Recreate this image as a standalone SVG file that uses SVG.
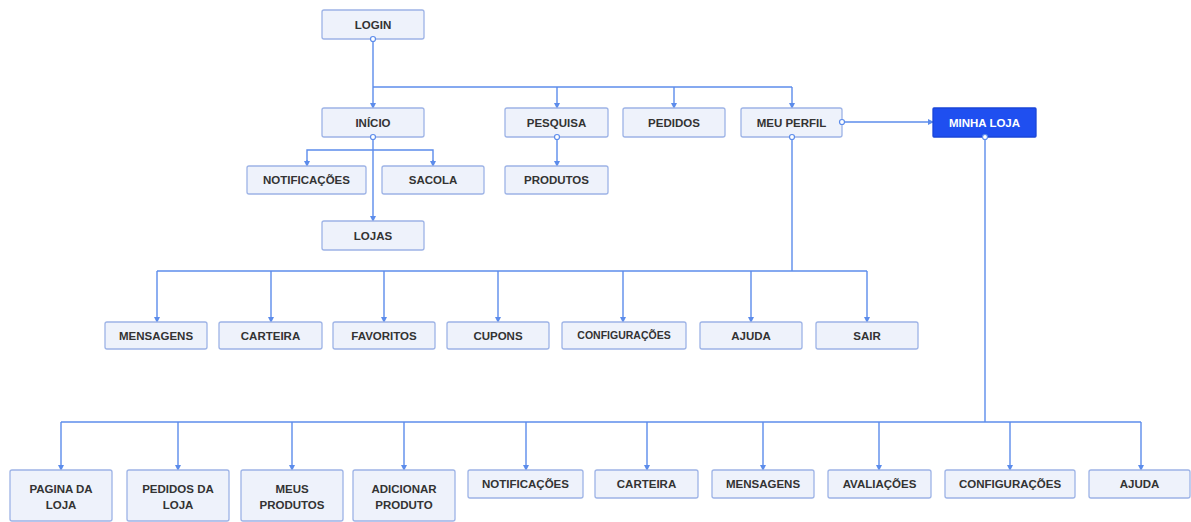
<svg xmlns="http://www.w3.org/2000/svg" width="1191" height="522" viewBox="0 0 1191 522">
  <style>
    .box { fill: #eef2fb; stroke: #9db3e6; stroke-width: 1.3; }
    .box-main { fill: #1f4ff0; stroke: #1a45d8; stroke-width: 1.3; }
    .lbl { font-family: "Liberation Sans", Arial, sans-serif; font-weight: bold; font-size: 11.5px; fill: #333; text-anchor: middle; }
    .lbl-sm { font-size: 10.5px; }
    .lbl-w { fill: #ffffff; }
    .wire { fill: none; stroke: #5c8ceb; stroke-width: 1.4; }
    .dot { fill: #ffffff; stroke: #5c8ceb; stroke-width: 1.2; }
  </style>
  <defs>
    <marker id="arr" viewBox="0 0 6 6" refX="5" refY="3" markerWidth="6" markerHeight="6" orient="auto" markerUnits="userSpaceOnUse">
      <path d="M0,0 L6,3 L0,6 z" fill="#5c8ceb"/>
    </marker>
  </defs>

  <rect width="1191" height="522" fill="#ffffff"/>

  <!-- connectors -->
  <g id="connectors">
    <!-- LOGIN to top menu -->
    <path class="wire" d="M373,39 V108" marker-end="url(#arr)"/>
    <path class="wire" d="M373,87 H792"/>
    <path class="wire" d="M557,87 V108" marker-end="url(#arr)"/>
    <path class="wire" d="M674,87 V108" marker-end="url(#arr)"/>
    <path class="wire" d="M792,87 V108" marker-end="url(#arr)"/>
    <!-- INICIO -->
    <path class="wire" d="M373,137 V221" marker-end="url(#arr)"/>
    <path class="wire" d="M307,166 V150 H433 V166" />
    <path class="wire" d="M307,160 V166" marker-end="url(#arr)"/>
    <path class="wire" d="M433,160 V166" marker-end="url(#arr)"/>
    <!-- PESQUISA -->
    <path class="wire" d="M557,137 V166" marker-end="url(#arr)"/>
    <!-- MEU PERFIL to MINHA LOJA -->
    <path class="wire" d="M842,122 H933" marker-end="url(#arr)"/>
    <!-- MEU PERFIL submenu -->
    <path class="wire" d="M792,137 V271"/>
    <path class="wire" d="M157,271 H867"/>
    <path class="wire" d="M157,271 V322" marker-end="url(#arr)"/>
    <path class="wire" d="M271,271 V322" marker-end="url(#arr)"/>
    <path class="wire" d="M384,271 V322" marker-end="url(#arr)"/>
    <path class="wire" d="M498,271 V322" marker-end="url(#arr)"/>
    <path class="wire" d="M623,271 V322" marker-end="url(#arr)"/>
    <path class="wire" d="M751,271 V322" marker-end="url(#arr)"/>
    <path class="wire" d="M867,271 V322" marker-end="url(#arr)"/>
    <!-- MINHA LOJA submenu -->
    <path class="wire" d="M985,137 V422"/>
    <path class="wire" d="M61,422 H1141"/>
    <path class="wire" d="M61,422 V470" marker-end="url(#arr)"/>
    <path class="wire" d="M178,422 V470" marker-end="url(#arr)"/>
    <path class="wire" d="M292,422 V470" marker-end="url(#arr)"/>
    <path class="wire" d="M404,422 V470" marker-end="url(#arr)"/>
    <path class="wire" d="M526,422 V470" marker-end="url(#arr)"/>
    <path class="wire" d="M647,422 V470" marker-end="url(#arr)"/>
    <path class="wire" d="M763,422 V470" marker-end="url(#arr)"/>
    <path class="wire" d="M879,422 V470" marker-end="url(#arr)"/>
    <path class="wire" d="M1010,422 V470" marker-end="url(#arr)"/>
    <path class="wire" d="M1141,422 V470" marker-end="url(#arr)"/>
  </g>

  <!-- top level -->
  <g id="login"><rect class="box" x="322" y="10" width="102" height="29" rx="2"/><text class="lbl" x="373" y="28.5">LOGIN</text></g>
  <g id="inicio"><rect class="box" x="322" y="108" width="102" height="29" rx="2"/><text class="lbl" x="373" y="126.5">INÍCIO</text></g>
  <g id="pesquisa"><rect class="box" x="505" y="108" width="103" height="29" rx="2"/><text class="lbl" x="556.5" y="126.5">PESQUISA</text></g>
  <g id="pedidos"><rect class="box" x="623" y="108" width="102" height="29" rx="2"/><text class="lbl" x="674" y="126.5">PEDIDOS</text></g>
  <g id="meu-perfil"><rect class="box" x="741" y="108" width="101" height="29" rx="2"/><text class="lbl" x="791.5" y="126.5">MEU PERFIL</text></g>
  <g id="minha-loja"><rect class="box-main" x="933" y="108" width="103" height="29" rx="1"/><text class="lbl lbl-w" x="984.5" y="126.5">MINHA LOJA</text></g>

  <!-- INICIO / PESQUISA children -->
  <g id="notificacoes"><rect class="box" x="247" y="166" width="119" height="28" rx="2"/><text class="lbl" x="306.5" y="184">NOTIFICAÇÕES</text></g>
  <g id="sacola"><rect class="box" x="382" y="166" width="102" height="28" rx="2"/><text class="lbl" x="433" y="184">SACOLA</text></g>
  <g id="lojas"><rect class="box" x="322" y="221" width="102" height="29" rx="2"/><text class="lbl" x="373" y="239.5">LOJAS</text></g>
  <g id="produtos"><rect class="box" x="505" y="166" width="103" height="28" rx="2"/><text class="lbl" x="556.5" y="184">PRODUTOS</text></g>

  <!-- MEU PERFIL children -->
  <g id="perfil-mensagens"><rect class="box" x="105" y="322" width="102" height="27" rx="2"/><text class="lbl" x="156" y="339.5">MENSAGENS</text></g>
  <g id="perfil-carteira"><rect class="box" x="219" y="322" width="103" height="27" rx="2"/><text class="lbl" x="270.5" y="339.5">CARTEIRA</text></g>
  <g id="perfil-favoritos"><rect class="box" x="333" y="322" width="102" height="27" rx="2"/><text class="lbl" x="384" y="339.5">FAVORITOS</text></g>
  <g id="perfil-cupons"><rect class="box" x="447" y="322" width="102" height="27" rx="2"/><text class="lbl" x="498" y="339.5">CUPONS</text></g>
  <g id="perfil-configuracoes"><rect class="box" x="562" y="322" width="124" height="27" rx="2"/><text class="lbl lbl-sm" x="624" y="339">CONFIGURAÇÕES</text></g>
  <g id="perfil-ajuda"><rect class="box" x="700" y="322" width="102" height="27" rx="2"/><text class="lbl" x="751" y="339.5">AJUDA</text></g>
  <g id="perfil-sair"><rect class="box" x="816" y="322" width="102" height="27" rx="2"/><text class="lbl" x="867" y="339.5">SAIR</text></g>

  <!-- MINHA LOJA children -->
  <g id="loja-pagina"><rect class="box" x="10" y="470" width="102" height="51" rx="2"/><text class="lbl" x="61" y="493">PAGINA DA</text><text class="lbl" x="61" y="508.5">LOJA</text></g>
  <g id="loja-pedidos"><rect class="box" x="127" y="470" width="102" height="51" rx="2"/><text class="lbl" x="178" y="493">PEDIDOS DA</text><text class="lbl" x="178" y="508.5">LOJA</text></g>
  <g id="loja-meus-produtos"><rect class="box" x="241" y="470" width="102" height="51" rx="2"/><text class="lbl" x="292" y="493">MEUS</text><text class="lbl" x="292" y="508.5">PRODUTOS</text></g>
  <g id="loja-adicionar"><rect class="box" x="353" y="470" width="102" height="51" rx="2"/><text class="lbl" x="404" y="493">ADICIONAR</text><text class="lbl" x="404" y="508.5">PRODUTO</text></g>
  <g id="loja-notificacoes"><rect class="box" x="468" y="470" width="115" height="28" rx="2"/><text class="lbl" x="525.5" y="488">NOTIFICAÇÕES</text></g>
  <g id="loja-carteira"><rect class="box" x="595" y="470" width="103" height="28" rx="2"/><text class="lbl" x="646.5" y="488">CARTEIRA</text></g>
  <g id="loja-mensagens"><rect class="box" x="712" y="470" width="102" height="28" rx="2"/><text class="lbl" x="763" y="488">MENSAGENS</text></g>
  <g id="loja-avaliacoes"><rect class="box" x="828" y="470" width="103" height="28" rx="2"/><text class="lbl" x="879.5" y="488">AVALIAÇÕES</text></g>
  <g id="loja-configuracoes"><rect class="box" x="945" y="470" width="130" height="28" rx="2"/><text class="lbl" x="1010" y="488">CONFIGURAÇÕES</text></g>
  <g id="loja-ajuda"><rect class="box" x="1089" y="470" width="101" height="28" rx="2"/><text class="lbl" x="1139.5" y="488">AJUDA</text></g>

  <!-- connection points on source boxes -->
  <g id="ports">
    <circle class="dot" cx="373" cy="39" r="2.5"/>
    <circle class="dot" cx="373" cy="137" r="2.5"/>
    <circle class="dot" cx="557" cy="137" r="2.5"/>
    <circle class="dot" cx="792" cy="137" r="2.5"/>
    <circle class="dot" cx="842" cy="122" r="2.5"/>
    <circle class="dot" cx="985" cy="137" r="2.5"/>
  </g>
</svg>
